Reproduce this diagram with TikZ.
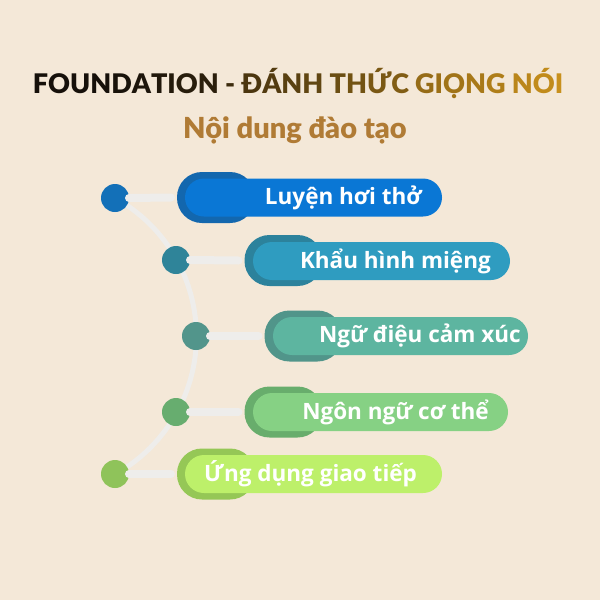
\documentclass[tikz,border=0pt]{standalone}
\usepackage{fontspec}
\setmainfont{Open Sans}
\newfontfamily\titlefont[BoldFont={Lato Black}]{Lato}
\definecolor{bg}{HTML}{F4E8D8}
\definecolor{tdark}{HTML}{16100A}
\definecolor{tgold}{HTML}{C8901C}
\definecolor{subc}{HTML}{B07B35}
\definecolor{linec}{HTML}{EEEDEB}
\definecolor{ca}{HTML}{1370B8}\definecolor{ba}{HTML}{1367AE}\definecolor{fa}{HTML}{0A77D5}
\definecolor{cb}{HTML}{2F8499}\definecolor{bb}{HTML}{2C829C}\definecolor{fb}{HTML}{2F9CC0}
\definecolor{cc}{HTML}{52958B}\definecolor{bc}{HTML}{51958A}\definecolor{fc}{HTML}{5DB5A0}
\definecolor{cd}{HTML}{67AD6F}\definecolor{bd}{HTML}{68AD6C}\definecolor{fd}{HTML}{86D184}
\definecolor{ce}{HTML}{8FC35A}\definecolor{be}{HTML}{95C756}\definecolor{fe}{HTML}{BDF06A}
\newcommand{\ttlc}[2]{\textcolor{tgold!#1!tdark}{#2}}
\tikzset{
  dot/.style={circle, fill=#1, minimum size=28pt, inner sep=0pt, outer sep=0pt},
  backpill/.style={rectangle, rounded corners=25pt, fill=#1, minimum width=78pt, minimum height=51pt, inner sep=0pt, outer sep=0pt},
  frontpill/.style={rectangle, rounded corners=19pt, fill=#1, minimum height=38pt, inner sep=0pt, outer sep=0pt},
  link/.style={draw=linec, line width=8pt, line cap=round},
  label/.style={text=white, font=\bfseries\fontsize{22.5}{26}\selectfont, inner sep=0pt}
}
\begin{document}
\begin{tikzpicture}[x=1pt,y=-1pt]
\fill[bg] (0,0) rectangle (600,600);
\useasboundingbox (0,0) rectangle (600,600);
% title
\node[font=\titlefont\fontsize{27}{32}\selectfont\bfseries, anchor=base, inner sep=0pt] (title) at (298,93)
 {\ttlc{0}{F}\ttlc{0}{O}\ttlc{0}{U}\ttlc{0}{N}\ttlc{2}{D}\ttlc{4}{A}\ttlc{6}{T}\ttlc{8}{I}\ttlc{10}{O}\ttlc{12}{N} \ttlc{22}{-} \ttlc{30}{Đ}\ttlc{34}{Á}\ttlc{38}{N}\ttlc{42}{H} \ttlc{48}{T}\ttlc{52}{H}\ttlc{56}{Ứ}\ttlc{60}{C} \ttlc{72}{G}\ttlc{75}{I}\ttlc{78}{Ọ}\ttlc{82}{N}\ttlc{86}{G} \ttlc{92}{N}\ttlc{96}{Ó}\ttlc{100}{I}};
\node[font=\titlefont\fontsize{29}{34}\selectfont\bfseries, text=subc, anchor=base, inner sep=0pt] (sub) at (295,138) {Nội dung đào tạo};
% arc
\draw[linec, line width=5pt] (115,198) arc[start angle=-61, end angle=61, radius=158];
% items
\node[dot=ca] (c1) at (115,198) {};
\node[dot=cb] (c2) at (176,260) {};
\node[dot=cc] (c3) at (196,336) {};
\node[dot=cd] (c4) at (176,412) {};
\node[dot=ce] (c5) at (115,474) {};
\node[backpill=ba] (b1) at (216,197.5) {};
\node[backpill=bb] (b2) at (283.5,260.5) {};
\node[backpill=bc] (b3) at (303.5,336) {};
\node[backpill=bd] (b4) at (283.5,412) {};
\node[backpill=be] (b5) at (216,474) {};
\node[frontpill=fa, minimum width=257pt] (f1) at (313.5,197.5) {};
\node[frontpill=fb, minimum width=257pt] (f2) at (381.5,261) {};
\node[frontpill=fc, minimum width=255pt] (f3) at (400.5,336) {};
\node[frontpill=fd, minimum width=255pt] (f4) at (380.5,412) {};
\node[frontpill=fe, minimum width=257pt] (f5) at (313.5,474) {};
\draw[link] (c1.east) -- ([xshift=-6pt]b1.west);
\draw[link] (c2.east) -- ([xshift=-6pt]b2.west);
\draw[link] (c3.east) -- ([xshift=-6pt]b3.west);
\draw[link] (c4.east) -- ([xshift=-6pt]b4.west);
\draw[link] (c5.east) -- ([xshift=-6pt]b5.west);
\node[label, anchor=east] (t1) at (422,198) {Luyện hơi thở};
\node[label, anchor=east] (t2) at (491,261) {Khẩu hình miệng};
\node[label, anchor=east] (t3) at (521,336) {Ngữ điệu cảm xúc};
\node[label, anchor=east] (t4) at (489,412) {Ngôn ngữ cơ thể};
\node[label, anchor=west] (t5) at (204,474) {Ứng dụng giao tiếp};
\end{tikzpicture}
\end{document}
